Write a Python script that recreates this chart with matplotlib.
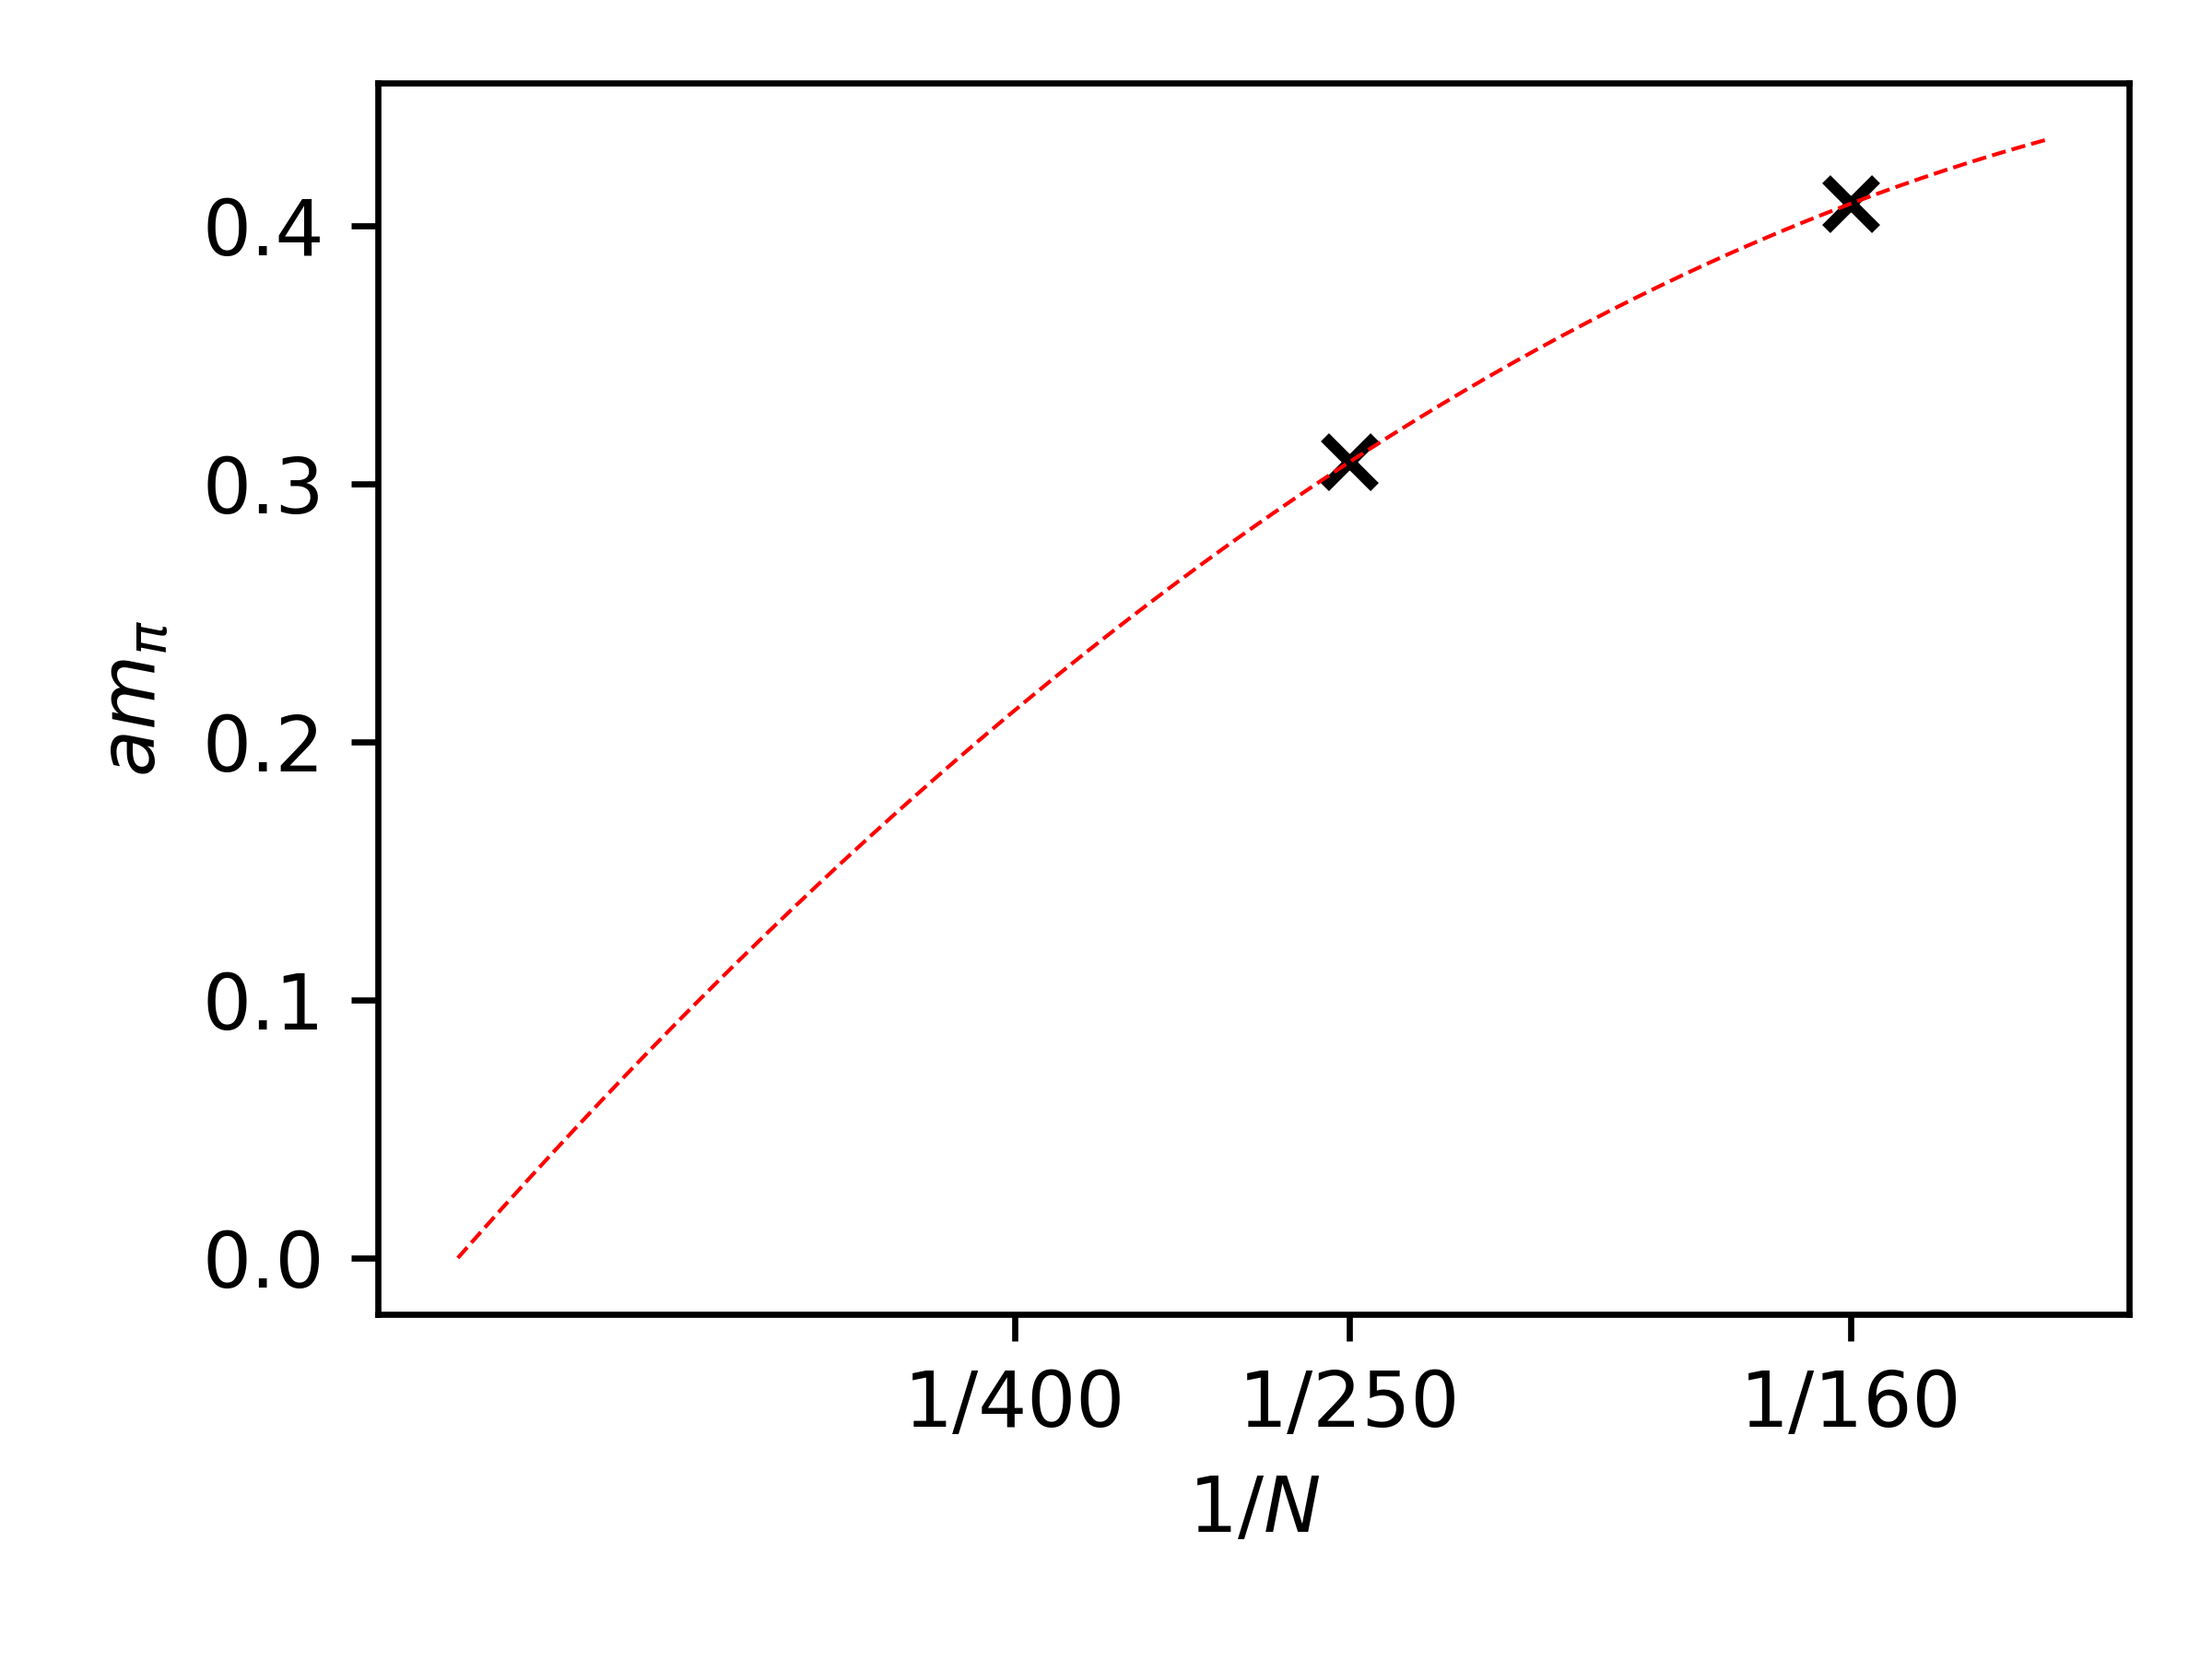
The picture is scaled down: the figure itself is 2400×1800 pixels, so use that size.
import numpy as np
import matplotlib
matplotlib.use("Agg")
import matplotlib.pyplot as plt

# data
N_values = [250, 160]
am_pi = [0.3085, 0.4087]
tick_N = [400, 250, 160]
tick_labels = ["1/400", "1/250", "1/160"]
fit_N_max = 140  # fit curve drawn from 1/N = 0 to 1/140

x_data = 1.0 / np.array(N_values, dtype=float)
y_data = np.array(am_pi)

# fit am_pi = a x + b x^2 (through origin)
A = np.vstack([x_data, x_data**2]).T
coef, *_ = np.linalg.lstsq(A, y_data, rcond=None)
x_fit = np.linspace(0, 1.0 / fit_N_max, 200)
y_fit = coef[0] * x_fit + coef[1] * x_fit**2

fig = plt.figure(figsize=(4, 3), dpi=600)
ax = fig.add_axes([0.171, 0.208, 0.7915, 0.742])

ax.plot(x_data, y_data, linestyle="none", marker="x", color="black",
        markersize=6.5, markeredgewidth=1.5, zorder=2)
ax.plot(x_fit, y_fit, linestyle="--", color="red", linewidth=0.5, zorder=3)

ax.set_xticks(1.0 / np.array(tick_N, dtype=float))
ax.set_xticklabels(tick_labels)
ax.set_yticks([0.0, 0.1, 0.2, 0.3, 0.4])
ax.set_xlabel(r"$1/N$")
ax.set_ylabel(r"$am_\pi$")

fig.savefig("out.png", dpi=600)
